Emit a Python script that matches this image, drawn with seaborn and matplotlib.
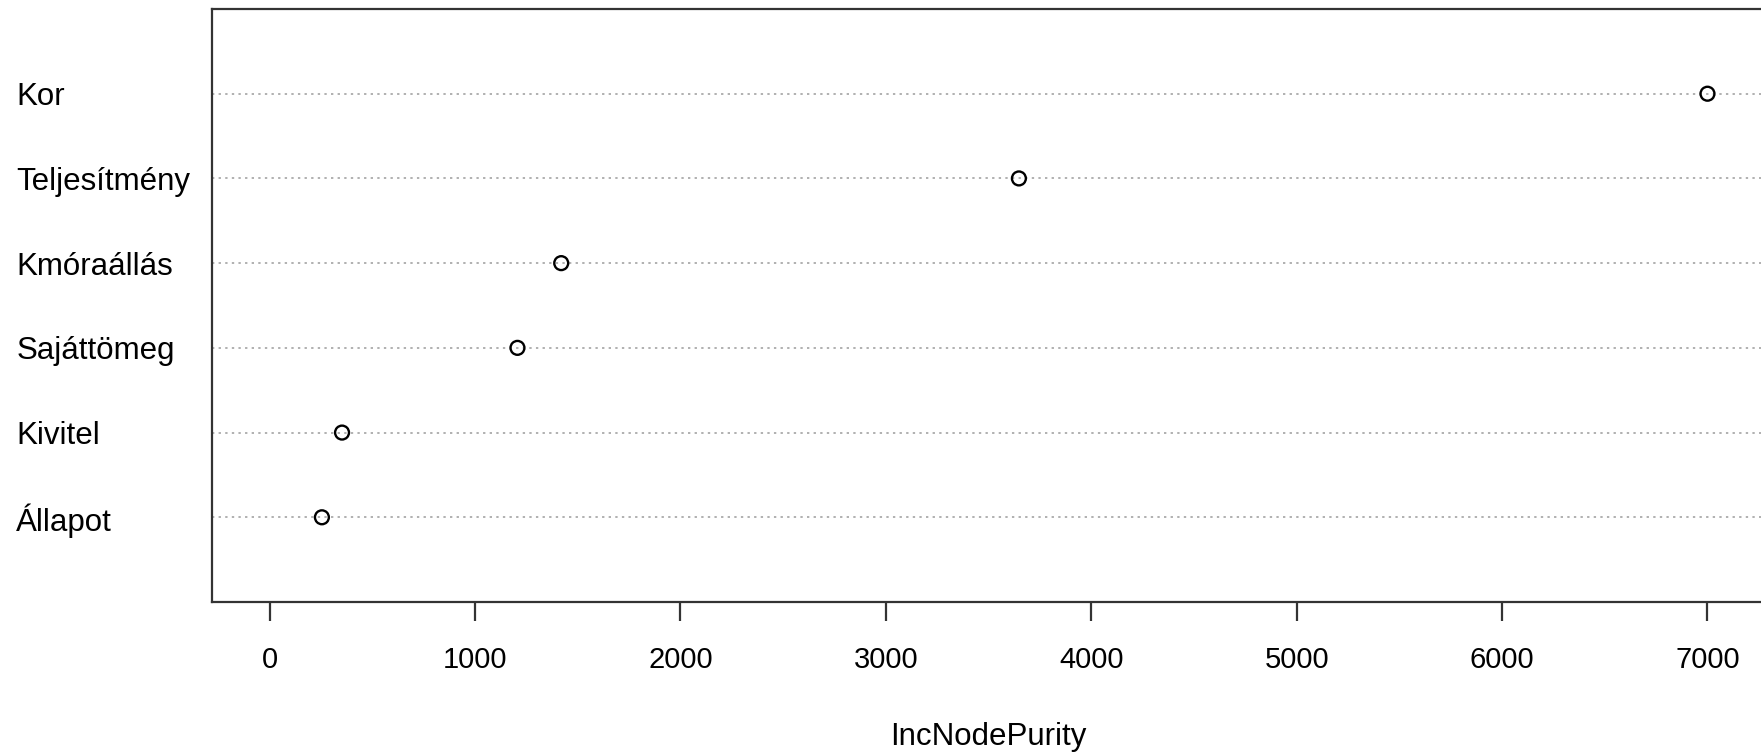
import matplotlib
matplotlib.use("Agg")
import matplotlib.pyplot as plt
import seaborn as sns
import pandas as pd

# variable importance (top to bottom as shown)
variables = ["Kor", "Teljesítmény", "Kmóraállás", "Sajáttömeg", "Kivitel", "Állapot"]
inc_node_purity = [7000, 3648, 1420, 1207, 353, 255]

sns.set_theme(style="white")
plt.rcParams["font.family"] = ["Liberation Sans", "DejaVu Sans"]
plt.rcParams["text.color"] = "black"
plt.rcParams["xtick.color"] = "black"
plt.rcParams["ytick.color"] = "black"
plt.rcParams["axes.labelcolor"] = "black"

n = len(variables)
df = pd.DataFrame({
    "variable": variables,
    "IncNodePurity": inc_node_purity,
    "pos": [n - i for i in range(n)],
})

fig = plt.figure(figsize=(17.61, 7.52), dpi=100)
ax = fig.add_axes([212 / 1761, 1 - 602 / 752, 1553 / 1761, 593 / 752])

# dotted guide lines like R's dotchart
for p in df["pos"]:
    ax.axhline(p, color="#b0b0b0", linestyle=(0, (1.2, 2.2)), linewidth=1.4, zorder=1)

sns.scatterplot(data=df, x="IncNodePurity", y="pos", ax=ax, s=100,
                facecolor="none", edgecolor="black", linewidth=1.7, zorder=3, legend=False)

xmax = max(inc_node_purity)
ax.set_xlim(-0.04 * xmax, 1.04 * xmax)
ax.set_ylim(0, n + 1)

ax.set_xticks(range(0, 8000, 1000))
ax.tick_params(axis="x", length=14, width=1.6, color="#333333", pad=18,
               labelsize=21, direction="out", bottom=True)
ax.set_yticks(df["pos"], df["variable"])
ax.tick_params(axis="y", length=0, pad=141, labelsize=22.5)
for lbl in ax.get_yticklabels():
    lbl.set_horizontalalignment("left")

ax.set_xlabel("IncNodePurity", fontsize=22.5, labelpad=34)
ax.set_ylabel("")

# full box around the plot region
for side in ["left", "top", "right", "bottom"]:
    ax.spines[side].set_color("#333333")
    ax.spines[side].set_linewidth(1.6)

fig.savefig("out.png", dpi=100)
